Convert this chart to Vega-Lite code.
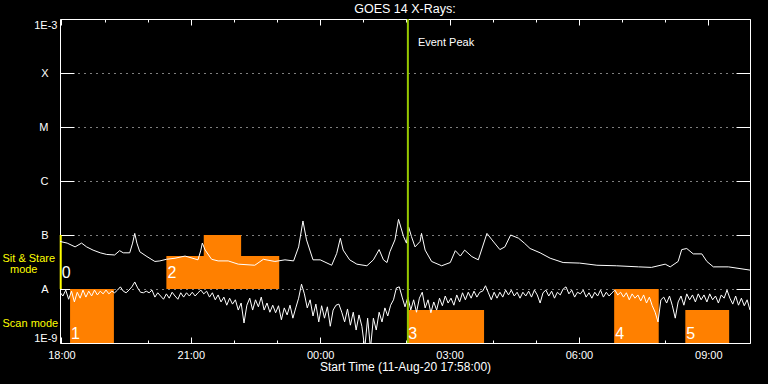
{
"$schema":"https://vega.github.io/schema/vega-lite/v6.json",
"width":690,"height":324,
"autosize":{"type":"none"},
"padding":{"left":60,"top":19,"right":18,"bottom":41},
"background":"black",
"config":{"font":"Liberation Sans","view":{"stroke":"white","strokeWidth":1},
 "axis":{"labelColor":"white","tickColor":"white","domain":false,"labelFontSize":11,"titleColor":"white","titleFontSize":12,"titleFontWeight":"normal","labelFlush":false,"labelOverlap":false,"grid":false}},
"title":{"text":"GOES 14 X-Rays:","color":"white","fontSize":12.5,"fontWeight":"normal","offset":3,"anchor":"middle"},
"datasets":{
"boxData":[
{"n":"1","t0":"2020-08-11T18:12","t1":"2020-08-11T19:13","v0":-9,"v1":-8},
{"n":"2","t0":"2020-08-11T20:26","t1":"2020-08-11T23:03","v0":-8,"v1":-7.39},
{"n":"2","t0":"2020-08-11T21:18","t1":"2020-08-11T22:10","v0":-8,"v1":-7},
{"n":"3","t0":"2020-08-12T02:01","t1":"2020-08-12T03:48","v0":-9,"v1":-8.39},
{"n":"4","t0":"2020-08-12T06:49","t1":"2020-08-12T07:51","v0":-9,"v1":-8},
{"n":"5","t0":"2020-08-12T08:28","t1":"2020-08-12T09:29","v0":-9,"v1":-8.39}],
"numData":[
{"n":"0","t":"2020-08-11T17:59","v":-7.8},
{"n":"1","t":"2020-08-11T18:12","v":-8.92},
{"n":"2","t":"2020-08-11T20:26","v":-7.8},
{"n":"3","t":"2020-08-12T02:01","v":-8.92},
{"n":"4","t":"2020-08-12T06:49","v":-8.92},
{"n":"5","t":"2020-08-12T08:28","v":-8.92}],
"longData":[
{"t":"2020-08-11T17:58","v":-7.12},{"t":"2020-08-11T18:08","v":-7.15},{"t":"2020-08-11T18:19","v":-7.22},{"t":"2020-08-11T18:28","v":-7.15},{"t":"2020-08-11T18:35","v":-7.22},{"t":"2020-08-11T18:44","v":-7.28},{"t":"2020-08-11T18:54","v":-7.33},{"t":"2020-08-11T19:03","v":-7.36},{"t":"2020-08-11T19:14","v":-7.37},{"t":"2020-08-11T19:21","v":-7.29},{"t":"2020-08-11T19:26","v":-7.33},{"t":"2020-08-11T19:35","v":-7.33},{"t":"2020-08-11T19:39","v":-7.15},{"t":"2020-08-11T19:42","v":-6.97},{"t":"2020-08-11T19:45","v":-7.15},{"t":"2020-08-11T19:49","v":-7.31},{"t":"2020-08-11T19:59","v":-7.40},
{"t":"2020-08-11T20:10","v":-7.49},{"t":"2020-08-11T20:17","v":-7.48},{"t":"2020-08-11T20:26","v":-7.45},{"t":"2020-08-11T20:38","v":-7.43},{"t":"2020-08-11T20:52","v":-7.39},{"t":"2020-08-11T21:10","v":-7.46},{"t":"2020-08-11T21:14","v":-7.28},{"t":"2020-08-11T21:16","v":-7.15},{"t":"2020-08-11T21:20","v":-7.28},{"t":"2020-08-11T21:29","v":-7.45},{"t":"2020-08-11T21:38","v":-7.48},{"t":"2020-08-11T21:52","v":-7.48},{"t":"2020-08-11T22:06","v":-7.54},{"t":"2020-08-11T22:29","v":-7.56},{"t":"2020-08-11T22:41","v":-7.45},{"t":"2020-08-11T22:57","v":-7.49},
{"t":"2020-08-11T23:11","v":-7.46},{"t":"2020-08-11T23:23","v":-7.48},{"t":"2020-08-11T23:30","v":-7.22},{"t":"2020-08-11T23:36","v":-6.74},{"t":"2020-08-11T23:41","v":-7.09},{"t":"2020-08-11T23:50","v":-7.46},{"t":"2020-08-12T00:00","v":-7.46},{"t":"2020-08-12T00:16","v":-7.56},{"t":"2020-08-12T00:23","v":-7.34},{"t":"2020-08-12T00:28","v":-7.06},{"t":"2020-08-12T00:32","v":-7.28},{"t":"2020-08-12T00:41","v":-7.46},{"t":"2020-08-12T00:51","v":-7.54},{"t":"2020-08-12T01:05","v":-7.57},{"t":"2020-08-12T01:14","v":-7.46},{"t":"2020-08-12T01:22","v":-7.27},{"t":"2020-08-12T01:28","v":-7.46},{"t":"2020-08-12T01:33","v":-7.51},{"t":"2020-08-12T01:37","v":-7.31},{"t":"2020-08-12T01:44","v":-7.09},{"t":"2020-08-12T01:49","v":-6.71},{"t":"2020-08-12T01:56","v":-7.03},{"t":"2020-08-12T02:00","v":-7.15},
{"t":"2020-08-12T02:03","v":-6.85},{"t":"2020-08-12T02:07","v":-7.03},{"t":"2020-08-12T02:12","v":-7.22},{"t":"2020-08-12T02:19","v":-7.12},{"t":"2020-08-12T02:21","v":-6.97},{"t":"2020-08-12T02:26","v":-7.28},{"t":"2020-08-12T02:35","v":-7.49},{"t":"2020-08-12T02:49","v":-7.57},{"t":"2020-08-12T03:01","v":-7.51},{"t":"2020-08-12T03:08","v":-7.29},{"t":"2020-08-12T03:15","v":-7.39},{"t":"2020-08-12T03:21","v":-7.28},{"t":"2020-08-12T03:31","v":-7.40},{"t":"2020-08-12T03:40","v":-7.46},{"t":"2020-08-12T03:52","v":-6.97},{"t":"2020-08-12T03:59","v":-7.09},{"t":"2020-08-12T04:10","v":-7.27},{"t":"2020-08-12T04:17","v":-7.22},{"t":"2020-08-12T04:25","v":-7.00},{"t":"2020-08-12T04:36","v":-7.06},{"t":"2020-08-12T04:44","v":-7.15},{"t":"2020-08-12T04:52","v":-7.25},
{"t":"2020-08-12T05:06","v":-7.33},{"t":"2020-08-12T05:20","v":-7.43},{"t":"2020-08-12T05:38","v":-7.51},{"t":"2020-08-12T06:01","v":-7.52},{"t":"2020-08-12T06:25","v":-7.56},{"t":"2020-08-12T06:52","v":-7.57},{"t":"2020-08-12T07:23","v":-7.59},{"t":"2020-08-12T07:41","v":-7.60},{"t":"2020-08-12T08:00","v":-7.54},{"t":"2020-08-12T08:07","v":-7.59},{"t":"2020-08-12T08:18","v":-7.49},{"t":"2020-08-12T08:23","v":-7.27},{"t":"2020-08-12T08:30","v":-7.25},{"t":"2020-08-12T08:39","v":-7.35},{"t":"2020-08-12T08:51","v":-7.35},{"t":"2020-08-12T08:58","v":-7.49},{"t":"2020-08-12T09:07","v":-7.59},{"t":"2020-08-12T09:28","v":-7.59},{"t":"2020-08-12T09:58","v":-7.65}],
"shortData":[
{"t":"2020-08-11T17:58","v":-8.06},
{"t":"2020-08-11T18:02","v":-8.13},{"t":"2020-08-11T18:06","v":-8.02},{"t":"2020-08-11T18:10","v":-8.19},{"t":"2020-08-11T18:14","v":-8.04},{"t":"2020-08-11T18:18","v":-8.24},{"t":"2020-08-11T18:22","v":-8.06},{"t":"2020-08-11T18:26","v":-8.17},{"t":"2020-08-11T18:30","v":-8.02},{"t":"2020-08-11T18:34","v":-8.15},{"t":"2020-08-11T18:38","v":-8.04},{"t":"2020-08-11T18:42","v":-8.13},{"t":"2020-08-11T18:46","v":-8.02},{"t":"2020-08-11T18:50","v":-8.11},{"t":"2020-08-11T18:54","v":-8.04},{"t":"2020-08-11T18:58","v":-8.09},
{"t":"2020-08-11T19:02","v":-8.02},{"t":"2020-08-11T19:06","v":-8.09},{"t":"2020-08-11T19:10","v":-8.04},{"t":"2020-08-11T19:14","v":-8.07},{"t":"2020-08-11T19:18","v":-8.02},{"t":"2020-08-11T19:22","v":-7.96},{"t":"2020-08-11T19:26","v":-8.04},{"t":"2020-08-11T19:30","v":-8.07},{"t":"2020-08-11T19:34","v":-8.02},{"t":"2020-08-11T19:38","v":-7.96},{"t":"2020-08-11T19:42","v":-7.87},{"t":"2020-08-11T19:46","v":-7.98},{"t":"2020-08-11T19:50","v":-8.06},{"t":"2020-08-11T19:54","v":-8.07},{"t":"2020-08-11T19:58","v":-8.04},
{"t":"2020-08-11T20:02","v":-8.07},{"t":"2020-08-11T20:06","v":-8.02},{"t":"2020-08-11T20:10","v":-8.15},{"t":"2020-08-11T20:14","v":-8.07},{"t":"2020-08-11T20:18","v":-8.13},{"t":"2020-08-11T20:22","v":-8.19},{"t":"2020-08-11T20:26","v":-8.09},{"t":"2020-08-11T20:30","v":-8.17},{"t":"2020-08-11T20:34","v":-8.06},{"t":"2020-08-11T20:38","v":-8.13},{"t":"2020-08-11T20:42","v":-8.19},{"t":"2020-08-11T20:46","v":-8.07},{"t":"2020-08-11T20:50","v":-8.15},{"t":"2020-08-11T20:54","v":-8.07},{"t":"2020-08-11T20:58","v":-8.13},
{"t":"2020-08-11T21:02","v":-8.06},{"t":"2020-08-11T21:06","v":-8.13},{"t":"2020-08-11T21:10","v":-8.07},{"t":"2020-08-11T21:14","v":-8.02},{"t":"2020-08-11T21:18","v":-8.09},{"t":"2020-08-11T21:22","v":-8.04},{"t":"2020-08-11T21:26","v":-8.15},{"t":"2020-08-11T21:30","v":-8.07},{"t":"2020-08-11T21:34","v":-8.20},{"t":"2020-08-11T21:38","v":-8.11},{"t":"2020-08-11T21:42","v":-8.24},{"t":"2020-08-11T21:46","v":-8.15},{"t":"2020-08-11T21:50","v":-8.30},{"t":"2020-08-11T21:54","v":-8.17},{"t":"2020-08-11T21:58","v":-8.28},
{"t":"2020-08-11T22:02","v":-8.20},{"t":"2020-08-11T22:06","v":-8.39},{"t":"2020-08-11T22:10","v":-8.26},{"t":"2020-08-11T22:14","v":-8.63},{"t":"2020-08-11T22:18","v":-8.30},{"t":"2020-08-11T22:22","v":-8.17},{"t":"2020-08-11T22:26","v":-8.39},{"t":"2020-08-11T22:30","v":-8.20},{"t":"2020-08-11T22:34","v":-8.33},{"t":"2020-08-11T22:38","v":-8.15},{"t":"2020-08-11T22:42","v":-8.39},{"t":"2020-08-11T22:46","v":-8.26},{"t":"2020-08-11T22:50","v":-8.43},{"t":"2020-08-11T22:54","v":-8.30},{"t":"2020-08-11T22:58","v":-8.44},
{"t":"2020-08-11T23:02","v":-8.31},{"t":"2020-08-11T23:06","v":-8.57},{"t":"2020-08-11T23:10","v":-8.35},{"t":"2020-08-11T23:14","v":-8.48},{"t":"2020-08-11T23:18","v":-8.30},{"t":"2020-08-11T23:22","v":-8.54},{"t":"2020-08-11T23:26","v":-8.35},{"t":"2020-08-11T23:30","v":-8.17},{"t":"2020-08-11T23:34","v":-7.91},{"t":"2020-08-11T23:38","v":-8.09},{"t":"2020-08-11T23:42","v":-8.35},{"t":"2020-08-11T23:46","v":-8.20},{"t":"2020-08-11T23:50","v":-8.50},{"t":"2020-08-11T23:54","v":-8.28},{"t":"2020-08-11T23:58","v":-8.61},
{"t":"2020-08-12T00:02","v":-8.31},{"t":"2020-08-12T00:06","v":-8.54},{"t":"2020-08-12T00:10","v":-8.33},{"t":"2020-08-12T00:14","v":-8.69},{"t":"2020-08-12T00:18","v":-8.39},{"t":"2020-08-12T00:22","v":-8.30},{"t":"2020-08-12T00:26","v":-8.28},{"t":"2020-08-12T00:30","v":-8.43},{"t":"2020-08-12T00:34","v":-8.61},{"t":"2020-08-12T00:38","v":-8.37},{"t":"2020-08-12T00:42","v":-8.67},{"t":"2020-08-12T00:46","v":-8.43},{"t":"2020-08-12T00:50","v":-8.76},{"t":"2020-08-12T00:54","v":-8.48},{"t":"2020-08-12T00:58","v":-8.69},
{"t":"2020-08-12T01:02","v":-9.1},{"t":"2020-08-12T01:06","v":-8.54},{"t":"2020-08-12T01:10","v":-9.1},{"t":"2020-08-12T01:14","v":-8.54},{"t":"2020-08-12T01:18","v":-8.76},{"t":"2020-08-12T01:22","v":-8.43},{"t":"2020-08-12T01:26","v":-8.61},{"t":"2020-08-12T01:30","v":-8.35},{"t":"2020-08-12T01:34","v":-8.50},{"t":"2020-08-12T01:38","v":-8.30},{"t":"2020-08-12T01:42","v":-8.20},{"t":"2020-08-12T01:46","v":-7.98},{"t":"2020-08-12T01:50","v":-7.96},{"t":"2020-08-12T01:54","v":-8.15},{"t":"2020-08-12T01:58","v":-8.33},
{"t":"2020-08-12T02:02","v":-8.15},{"t":"2020-08-12T02:06","v":-8.39},{"t":"2020-08-12T02:10","v":-8.20},{"t":"2020-08-12T02:14","v":-8.43},{"t":"2020-08-12T02:18","v":-8.17},{"t":"2020-08-12T02:22","v":-8.06},{"t":"2020-08-12T02:26","v":-8.35},{"t":"2020-08-12T02:30","v":-8.20},{"t":"2020-08-12T02:34","v":-8.44},{"t":"2020-08-12T02:38","v":-8.24},{"t":"2020-08-12T02:42","v":-8.39},{"t":"2020-08-12T02:46","v":-8.17},{"t":"2020-08-12T02:50","v":-8.31},{"t":"2020-08-12T02:54","v":-8.13},{"t":"2020-08-12T02:58","v":-8.26},
{"t":"2020-08-12T03:02","v":-8.17},{"t":"2020-08-12T03:06","v":-8.30},{"t":"2020-08-12T03:10","v":-8.11},{"t":"2020-08-12T03:14","v":-8.24},{"t":"2020-08-12T03:18","v":-8.07},{"t":"2020-08-12T03:22","v":-8.20},{"t":"2020-08-12T03:26","v":-8.06},{"t":"2020-08-12T03:30","v":-8.17},{"t":"2020-08-12T03:34","v":-8.04},{"t":"2020-08-12T03:38","v":-8.15},{"t":"2020-08-12T03:42","v":-8.06},{"t":"2020-08-12T03:46","v":-8.04},{"t":"2020-08-12T03:50","v":-7.94},{"t":"2020-08-12T03:54","v":-8.07},{"t":"2020-08-12T03:58","v":-8.20},
{"t":"2020-08-12T04:02","v":-8.06},{"t":"2020-08-12T04:06","v":-8.17},{"t":"2020-08-12T04:10","v":-8.06},{"t":"2020-08-12T04:14","v":-8.15},{"t":"2020-08-12T04:18","v":-8.02},{"t":"2020-08-12T04:22","v":-8.11},{"t":"2020-08-12T04:26","v":-8.02},{"t":"2020-08-12T04:30","v":-8.13},{"t":"2020-08-12T04:34","v":-8.06},{"t":"2020-08-12T04:38","v":-8.17},{"t":"2020-08-12T04:42","v":-8.06},{"t":"2020-08-12T04:46","v":-8.13},{"t":"2020-08-12T04:50","v":-8.04},{"t":"2020-08-12T04:54","v":-8.15},{"t":"2020-08-12T04:58","v":-8.02},
{"t":"2020-08-12T05:02","v":-8.11},{"t":"2020-08-12T05:06","v":-8.26},{"t":"2020-08-12T05:10","v":-8.07},{"t":"2020-08-12T05:14","v":-8.02},{"t":"2020-08-12T05:18","v":-8.13},{"t":"2020-08-12T05:22","v":-8.04},{"t":"2020-08-12T05:26","v":-8.17},{"t":"2020-08-12T05:30","v":-8.06},{"t":"2020-08-12T05:34","v":-8.11},{"t":"2020-08-12T05:38","v":-8.00},{"t":"2020-08-12T05:42","v":-7.96},{"t":"2020-08-12T05:46","v":-8.09},{"t":"2020-08-12T05:50","v":-8.02},{"t":"2020-08-12T05:54","v":-8.15},{"t":"2020-08-12T05:58","v":-8.06},
{"t":"2020-08-12T06:02","v":-8.09},{"t":"2020-08-12T06:06","v":-8.02},{"t":"2020-08-12T06:10","v":-8.15},{"t":"2020-08-12T06:14","v":-8.07},{"t":"2020-08-12T06:18","v":-8.17},{"t":"2020-08-12T06:22","v":-8.06},{"t":"2020-08-12T06:26","v":-8.13},{"t":"2020-08-12T06:30","v":-8.02},{"t":"2020-08-12T06:34","v":-8.15},{"t":"2020-08-12T06:38","v":-8.06},{"t":"2020-08-12T06:42","v":-8.13},{"t":"2020-08-12T06:46","v":-8.07},{"t":"2020-08-12T06:50","v":-8.02},{"t":"2020-08-12T06:54","v":-8.11},{"t":"2020-08-12T06:58","v":-8.06},
{"t":"2020-08-12T07:02","v":-8.15},{"t":"2020-08-12T07:06","v":-8.07},{"t":"2020-08-12T07:10","v":-8.20},{"t":"2020-08-12T07:14","v":-8.09},{"t":"2020-08-12T07:18","v":-8.17},{"t":"2020-08-12T07:22","v":-8.11},{"t":"2020-08-12T07:26","v":-8.22},{"t":"2020-08-12T07:30","v":-8.11},{"t":"2020-08-12T07:34","v":-8.26},{"t":"2020-08-12T07:38","v":-8.15},{"t":"2020-08-12T07:42","v":-8.31},{"t":"2020-08-12T07:46","v":-8.43},{"t":"2020-08-12T07:50","v":-8.61},{"t":"2020-08-12T07:54","v":-8.20},{"t":"2020-08-12T07:58","v":-8.15},
{"t":"2020-08-12T08:02","v":-8.26},{"t":"2020-08-12T08:06","v":-8.13},{"t":"2020-08-12T08:10","v":-8.31},{"t":"2020-08-12T08:14","v":-8.54},{"t":"2020-08-12T08:18","v":-8.24},{"t":"2020-08-12T08:22","v":-8.13},{"t":"2020-08-12T08:26","v":-8.30},{"t":"2020-08-12T08:30","v":-8.09},{"t":"2020-08-12T08:34","v":-8.20},{"t":"2020-08-12T08:38","v":-8.11},{"t":"2020-08-12T08:42","v":-8.24},{"t":"2020-08-12T08:46","v":-8.09},{"t":"2020-08-12T08:50","v":-8.20},{"t":"2020-08-12T08:54","v":-8.11},{"t":"2020-08-12T08:58","v":-8.24},
{"t":"2020-08-12T09:02","v":-8.09},{"t":"2020-08-12T09:06","v":-8.20},{"t":"2020-08-12T09:10","v":-8.13},{"t":"2020-08-12T09:14","v":-8.26},{"t":"2020-08-12T09:18","v":-8.11},{"t":"2020-08-12T09:22","v":-8.17},{"t":"2020-08-12T09:26","v":-8.02},{"t":"2020-08-12T09:30","v":-8.17},{"t":"2020-08-12T09:34","v":-8.28},{"t":"2020-08-12T09:38","v":-8.13},{"t":"2020-08-12T09:42","v":-8.30},{"t":"2020-08-12T09:46","v":-8.17},{"t":"2020-08-12T09:50","v":-8.31},{"t":"2020-08-12T09:54","v":-8.20},{"t":"2020-08-12T09:58","v":-8.39}]
},
"resolve":{"axis":{"x":"independent","y":"independent"}},
"layer":[
{"data":{"name":"boxData"},"mark":{"type":"rect","color":"#FF8000"},
 "encoding":{
  "x":{"field":"t0","type":"temporal","scale":{"domain":[{"year":2020,"month":8,"date":11,"hours":17,"minutes":58},{"year":2020,"month":8,"date":12,"hours":9,"minutes":58}],"nice":false},
   "axis":{"orient":"bottom","values":[{"year":2020,"month":8,"date":11,"hours":18},{"year":2020,"month":8,"date":11,"hours":21},{"year":2020,"month":8,"date":12,"hours":0},{"year":2020,"month":8,"date":12,"hours":3},{"year":2020,"month":8,"date":12,"hours":6},{"year":2020,"month":8,"date":12,"hours":9}],"format":"%H:%M","tickSize":-6,"labelPadding":12,"title":"Start Time (11-Aug-20 17:58:00)","titlePadding":1}},
  "x2":{"field":"t1"},
  "y":{"field":"v0","type":"quantitative","scale":{"domain":[-9,-3],"nice":false,"zero":false},
   "axis":{"orient":"left","values":[-9,-3],"labelExpr":"datum.value < -6 ? '1E-9' : '1E-3'","tickSize":-14,"labelPadding":17,"labelFlush":true,"title":null}},
  "y2":{"field":"v1"}}},
{"data":{"values":[{"t":"2020-08-11T17:59","v0":-8,"v1":-7}]},"mark":{"type":"rule","color":"#FFFF00","strokeWidth":2},
 "encoding":{
  "x":{"field":"t","type":"temporal","axis":{"orient":"top","values":[{"year":2020,"month":8,"date":11,"hours":18},{"year":2020,"month":8,"date":11,"hours":21},{"year":2020,"month":8,"date":12,"hours":0},{"year":2020,"month":8,"date":12,"hours":3},{"year":2020,"month":8,"date":12,"hours":6},{"year":2020,"month":8,"date":12,"hours":9}],"labels":false,"tickSize":-6,"title":null}},
  "y":{"field":"v0","type":"quantitative","axis":{"orient":"right","values":[-9,-8,-7,-6,-5,-4,-3],"labels":false,"tickSize":-14,"title":null}},
  "y2":{"field":"v1"}}},
{"data":{"name":"shortData"},"mark":{"type":"line","color":"white","strokeWidth":1,"clip":true},
 "encoding":{
  "x":{"field":"t","type":"temporal","axis":{"orient":"bottom","values":[{"year":2020,"month":8,"date":11,"hours":19},{"year":2020,"month":8,"date":11,"hours":20},{"year":2020,"month":8,"date":11,"hours":22},{"year":2020,"month":8,"date":11,"hours":23},{"year":2020,"month":8,"date":12,"hours":1},{"year":2020,"month":8,"date":12,"hours":2},{"year":2020,"month":8,"date":12,"hours":4},{"year":2020,"month":8,"date":12,"hours":5},{"year":2020,"month":8,"date":12,"hours":7},{"year":2020,"month":8,"date":12,"hours":8}],"labels":false,"tickSize":-3,"title":null}},
  "y":{"field":"v","type":"quantitative","axis":{"orient":"left","values":[-7.435,-8.648],"labelExpr":"datum.value < -8 ? 'Scan mode' : 'Sit & Stare'","labelAlign":"left","labelColor":"#FFFF00","labelPadding":58,"ticks":false,"title":null}}}},
{"data":{"name":"longData"},"mark":{"type":"line","color":"white","strokeWidth":1},
 "encoding":{
  "x":{"field":"t","type":"temporal","axis":{"orient":"top","values":[{"year":2020,"month":8,"date":11,"hours":19},{"year":2020,"month":8,"date":11,"hours":20},{"year":2020,"month":8,"date":11,"hours":22},{"year":2020,"month":8,"date":11,"hours":23},{"year":2020,"month":8,"date":12,"hours":1},{"year":2020,"month":8,"date":12,"hours":2},{"year":2020,"month":8,"date":12,"hours":4},{"year":2020,"month":8,"date":12,"hours":5},{"year":2020,"month":8,"date":12,"hours":7},{"year":2020,"month":8,"date":12,"hours":8}],"labels":false,"tickSize":-3,"title":null}},
  "y":{"field":"v","type":"quantitative","axis":{"orient":"left","values":[-8,-7,-6,-5,-4],"labelExpr":"datum.value==-8?'A':datum.value==-7?'B':datum.value==-6?'C':datum.value==-5?'M':'X'","tickSize":-14,"labelPadding":26,"grid":true,"gridColor":"white","gridDash":[1,5],"gridWidth":1,"title":null}}}},
{"data":{"values":[{"t":"2020-08-12T02:02"}]},"mark":{"type":"rule","color":"#96C800","strokeWidth":2},
 "encoding":{"x":{"field":"t","type":"temporal","axis":null}}},
{"data":{"values":[{"t":"2020-08-12T02:02","v":-3.44,"label":"Event Peak"}]},"mark":{"type":"text","color":"white","align":"left","baseline":"middle","dx":10,"fontSize":11},
 "encoding":{"x":{"field":"t","type":"temporal","axis":null},"y":{"field":"v","type":"quantitative","axis":{"orient":"left","values":[-7.63],"labelExpr":"'mode'","labelAlign":"right","labelColor":"#FFFF00","labelPadding":23,"ticks":false,"title":null}},"text":{"field":"label"}}},
{"data":{"name":"numData"},"mark":{"type":"text","color":"white","align":"left","baseline":"alphabetic","dx":1,"fontSize":16},
 "encoding":{"x":{"field":"t","type":"temporal","axis":null},"y":{"field":"v","type":"quantitative","axis":null},"text":{"field":"n"}}}
]
}
